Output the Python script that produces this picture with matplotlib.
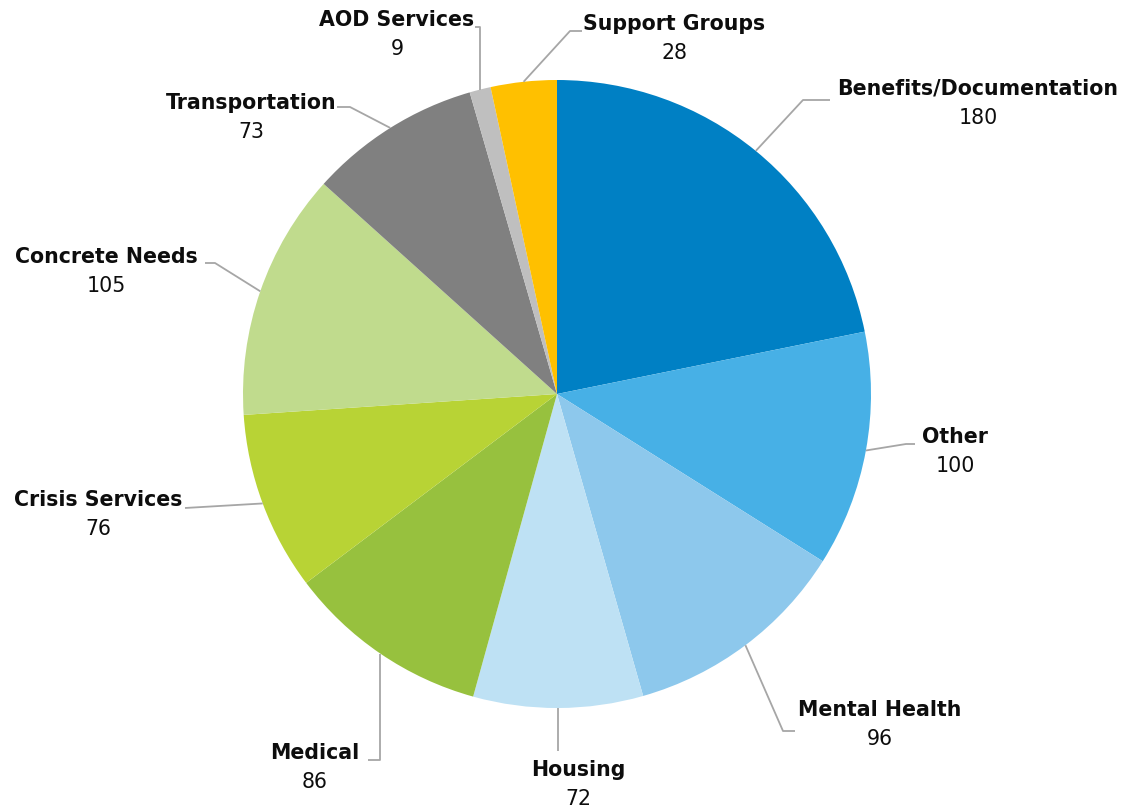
import numpy as np
import matplotlib
matplotlib.use("Agg")
import matplotlib.pyplot as plt

categories = ["Benefits/Documentation", "Other", "Mental Health", "Housing", "Medical",
              "Crisis Services", "Concrete Needs", "Transportation", "AOD Services", "Support Groups"]
values = [180, 100, 96, 72, 86, 76, 105, 73, 9, 28]
colors = ["#0080C4", "#47B0E6", "#8DC8EC", "#BEE1F4", "#97C13E",
          "#B8D335", "#C0DB8D", "#808080", "#BFBFBF", "#FFC000"]

W, H = 1125, 812
fig = plt.figure(figsize=(W / 100, H / 100), dpi=100)
ax = fig.add_axes([0, 0, 1, 1])

cx, cy, R = 557, 812 - 395, 314
ax.pie(values, colors=colors, startangle=90, counterclock=False,
       center=(cx, cy), radius=R, frame=True,
       wedgeprops=dict(linewidth=0))
ax.set_xlim(0, W)
ax.set_ylim(0, H)
ax.set_aspect("equal")
ax.axis("off")

# label layout (pixel coordinates from top-left): label centre x, name y, elbow point, end of horizontal
layout = {
    "Benefits/Documentation": dict(tx=978, ty=89, elbow=(803, 101), end=(830, 101)),
    "Other": dict(tx=955, ty=437, elbow=(906, 445), end=(915, 445)),
    "Mental Health": dict(tx=880, ty=710, elbow=(783, 732), end=(795, 732)),
    "Housing": dict(tx=578, ty=770, elbow=(557, 752), end=(557, 752)),
    "Medical": dict(tx=315, ty=753, elbow=(380, 761), end=(368, 761)),
    "Crisis Services": dict(tx=98, ty=500, elbow=(185, 509), end=(185, 509)),
    "Concrete Needs": dict(tx=106, ty=257, elbow=(215, 264), end=(205, 264)),
    "Transportation": dict(tx=251, ty=103, elbow=(350, 108), end=(337, 108)),
    "AOD Services": dict(tx=397, ty=20, elbow=(481, 28), end=(476, 28)),
    "Support Groups": dict(tx=674, ty=24, elbow=(570, 32), end=(582, 32)),
}

total = sum(values)
cum = 0
for cat, v in zip(categories, values):
    mid = 90 - (cum + v / 2) / total * 360
    cum += v
    sx = cx + R * np.cos(np.radians(mid))
    sy = cy + R * np.sin(np.radians(mid))
    L = layout[cat]
    ex, ey = L["elbow"]
    fx, fy = L["end"]
    if cat == "Medical":
        ex = sx
        fx = sx - 12
    if cat == "AOD Services":
        ex = sx
        fx = sx - 5
    if cat == "Housing":
        ex = sx
        fx = sx
    ax.plot([sx, ex, fx], [sy, H - ey, H - fy], color="#A6A6A6", lw=1.3,
            solid_capstyle="butt", zorder=1)
    ax.text(L["tx"], H - L["ty"], cat, ha="center", va="center",
            fontsize=14.8, fontweight="bold", color="#0D0D0D", family="DejaVu Sans")
    ax.text(L["tx"], H - L["ty"] - 29, str(v), ha="center", va="center",
            fontsize=14.8, color="#0D0D0D", family="DejaVu Sans")

fig.savefig("out.png", dpi=100, facecolor="white")
